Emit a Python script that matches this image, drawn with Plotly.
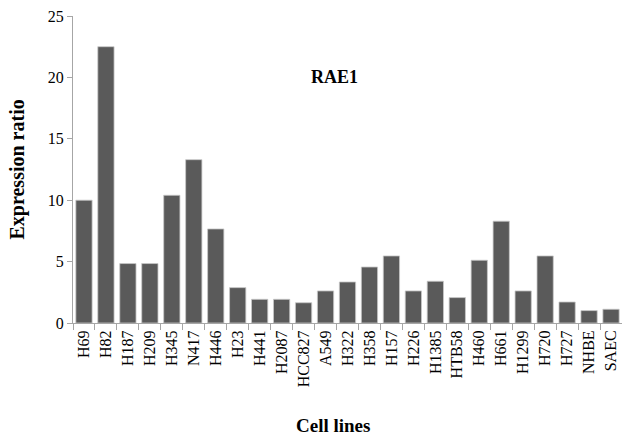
import plotly.graph_objects as go

cell_lines = ["H69", "H82", "H187", "H209", "H345", "N417", "H446", "H23", "H441", "H2087",
              "HCC827", "A549", "H322", "H358", "H157", "H226", "H1385", "HTB58", "H460",
              "H661", "H1299", "H720", "H727", "NHBE", "SAEC"]
expression_ratio = [10.0, 22.5, 4.84, 4.84, 10.4, 13.3, 7.66, 2.88, 1.93, 1.93,
                    1.65, 2.61, 3.34, 4.56, 5.46, 2.61, 3.40, 2.07, 5.11,
                    8.29, 2.61, 5.46, 1.71, 1.01, 1.12]
y_ticks = [0, 5, 10, 15, 20, 25]

font_family = "Liberation Serif"

fig = go.Figure()
fig.add_trace(go.Bar(
    x=cell_lines, y=expression_ratio,
    marker=dict(color="#5a5a5a", line=dict(color="#c8c8c8", width=0.8)),
))

fig.update_layout(
    width=622, height=435,
    margin=dict(l=73, r=0, t=16, b=112, autoexpand=False),
    paper_bgcolor="white", plot_bgcolor="white",
    showlegend=False,
    bargap=0.26,
    font=dict(family=font_family, size=16, color="black"),
)
fig.update_xaxes(
    type="category", automargin=False,
    showline=True, linecolor="#a6a6a6", linewidth=1,
    ticks="outside", tickson="boundaries", ticklen=6, tickcolor="#a6a6a6",
    tickangle=-90, tickfont=dict(family=font_family, size=16, color="black"),
    showgrid=False, zeroline=False,
)
fig.update_yaxes(
    range=[0, 25], tickvals=y_ticks, automargin=False,
    showline=True, linecolor="#a6a6a6", linewidth=1,
    ticks="outside", ticklen=5, tickcolor="#a6a6a6",
    tickfont=dict(family=font_family, size=16, color="black"),
    showgrid=False, zeroline=False,
)

fig.add_annotation(text="<b>Expression ratio</b>", xref="paper", yref="paper",
                   x=0, y=0.5, xshift=-56, textangle=-90, showarrow=False,
                   xanchor="center", yanchor="middle",
                   font=dict(family=font_family, size=20, color="black"))
fig.add_annotation(text="<b>Cell lines</b>", xref="paper", yref="paper",
                   x=0.4736, y=0, yshift=-102, showarrow=False,
                   xanchor="center", yanchor="middle",
                   font=dict(family=font_family, size=19, color="black"))
fig.add_annotation(text="<b>RAE1</b>", xref="paper", yref="paper",
                   x=0.477, y=0.801, showarrow=False,
                   xanchor="center", yanchor="middle",
                   font=dict(family=font_family, size=18, color="black"))

fig.write_html("out.html", config={"displayModeBar": False},
               post_script="document.body.style.margin='0';document.body.style.overflow='hidden';")
